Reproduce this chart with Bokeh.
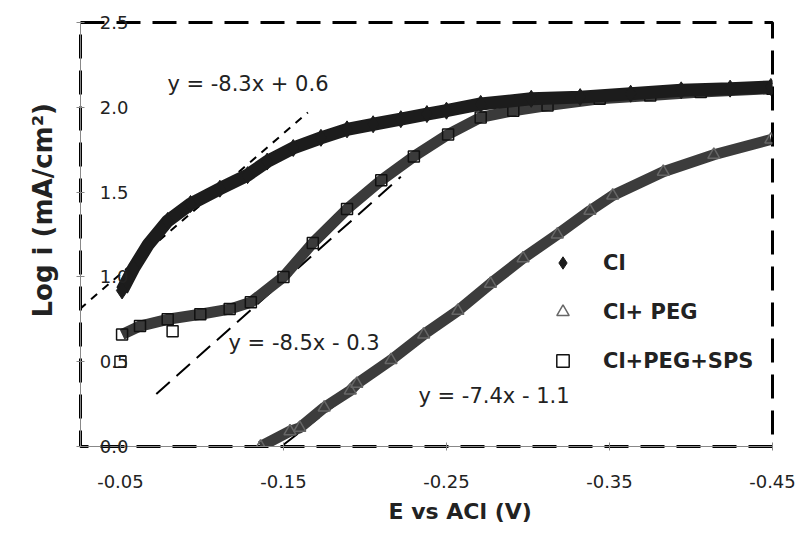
from bokeh.plotting import figure
from bokeh.models import Range1d, FixedTicker, PrintfTickFormatter, Label, Legend, LegendItem, Title
from bokeh.embed import file_html
from bokeh.resources import INLINE

# ---- data ----
series_names = ["Cl", "Cl+ PEG", "Cl+PEG+SPS"]

cl_x = [-0.051, -0.058, -0.067, -0.079, -0.093, -0.111, -0.128, -0.140, -0.156, -0.173, -0.189,
        -0.205, -0.222, -0.238, -0.250, -0.271, -0.302, -0.332, -0.363, -0.394, -0.424, -0.449]
cl_y = [0.92, 1.05, 1.19, 1.33, 1.43, 1.52, 1.60, 1.68, 1.76, 1.82, 1.87,
        1.90, 1.93, 1.96, 1.98, 2.02, 2.05, 2.06, 2.08, 2.10, 2.11, 2.12]

peg_x = [-0.136, -0.154, -0.160, -0.175, -0.191, -0.195, -0.216, -0.236, -0.257, -0.277, -0.297,
         -0.318, -0.338, -0.352, -0.383, -0.414, -0.449]
peg_y = [0.00, 0.09, 0.11, 0.23, 0.33, 0.37, 0.51, 0.66, 0.80, 0.96, 1.11,
         1.25, 1.39, 1.48, 1.62, 1.72, 1.81]

sps_x = [-0.051, -0.062, -0.079, -0.099, -0.117, -0.130, -0.150, -0.168, -0.189, -0.210, -0.230,
         -0.251, -0.271, -0.291, -0.312, -0.344, -0.375, -0.406, -0.450]
sps_y = [0.66, 0.71, 0.75, 0.78, 0.81, 0.85, 1.00, 1.20, 1.40, 1.57, 1.71,
         1.84, 1.94, 1.98, 2.01, 2.05, 2.07, 2.09, 2.11]
sps_extra_x = [-0.050, -0.082]
sps_extra_y = [0.50, 0.68]

# trend lines (end points) and their equation labels
trend1_x = [-0.025, -0.165]
trend1_y = [0.81, 1.97]
trend2_x = [-0.072, -0.222]
trend2_y = [0.31, 1.59]
trend3_x = [-0.150, -0.350]
trend3_y = [0.01, 1.49]
trend_labels = ["y = -8.3x + 0.6", "y = -8.5x - 0.3", "y = -7.4x - 1.1"]

x_ticks = [-0.05, -0.15, -0.25, -0.35, -0.45]
y_ticks = [0.0, 0.5, 1.0, 1.5, 2.0, 2.5]

FONT = "DejaVu Sans"
TXT = "#222222"

p = figure(width=800, height=544, x_range=Range1d(-0.0255, -0.45), y_range=Range1d(0, 2.5),
           output_backend="svg", toolbar_location=None,
           min_border_left=80, min_border_right=28, min_border_top=22, min_border_bottom=98)
p.grid.visible = False
p.background_fill_color = "white"
p.border_fill_color = "white"
p.outline_line_color = "black"
p.outline_line_width = 3
p.outline_line_dash = "24 12"

for ax in (p.xaxis[0], p.yaxis[0]):
    ax.axis_line_color = "#888888"
    ax.axis_line_width = 1
    ax.major_tick_line_color = "#888888"
    ax.major_tick_in = 4
    ax.major_tick_out = 4
    ax.minor_tick_line_color = None
    ax.major_label_text_font = FONT
    ax.major_label_text_font_size = "18px"
    ax.major_label_text_color = TXT

p.xaxis.ticker = FixedTicker(ticks=x_ticks)
p.xaxis.formatter = PrintfTickFormatter(format="%.2f")
p.xaxis.major_label_standoff = 24
p.yaxis.ticker = FixedTicker(ticks=y_ticks)
p.yaxis.formatter = PrintfTickFormatter(format="%.1f")
p.yaxis.major_label_standoff = -52

# axis titles
p.add_layout(Title(text="E vs ACl (V)", align="left", offset=308, standoff=12,
                   text_font=FONT, text_font_style="bold", text_font_size="22px",
                   text_color=TXT), "below")
p.add_layout(Title(text="Log i (mA/cm²)", align="left", offset=129, standoff=45,
                   text_font=FONT, text_font_style="bold", text_font_size="26px",
                   text_color=TXT), "left")

# trend lines
p.line(trend1_x, trend1_y, line_color="black", line_width=2, line_dash="8 7")
p.line(trend2_x, trend2_y, line_color="black", line_width=2, line_dash="18 9")
p.line(trend3_x, trend3_y, line_color="black", line_width=2, line_dash="18 9")

# series bands
p.line(peg_x, peg_y, line_color="#3c3c3c", line_width=11)
r_peg = p.scatter(peg_x, peg_y, marker="triangle", size=12, fill_color=None,
                  line_color="#666666", line_width=1.5)

p.line(sps_x, sps_y, line_color="#3a3a3a", line_width=11)
r_sps = p.scatter(sps_x, sps_y, marker="square", size=11, fill_color=None,
                  line_color="#111111", line_width=1.5)
p.scatter(sps_extra_x, sps_extra_y, marker="square", size=11, fill_color=None,
          line_color="#111111", line_width=1.5)

p.line(cl_x, cl_y, line_color="#1c1c1c", line_width=13)
r_cl = p.scatter(cl_x, cl_y, marker="diamond", size=17, fill_color="#1c1c1c",
                 line_color="#1c1c1c")

# equation labels
for tx, ty, t in [(-0.0788, 2.135, trend_labels[0]), (-0.1163, 0.612, trend_labels[1]),
                  (-0.2328, 0.30, trend_labels[2])]:
    p.add_layout(Label(x=tx, y=ty, text=t, text_font=FONT, text_font_size="21px",
                       text_color=TXT, text_align="left", text_baseline="middle"))

legend = Legend(items=[LegendItem(label=series_names[0], renderers=[r_cl]),
                       LegendItem(label=series_names[1], renderers=[r_peg]),
                       LegendItem(label=series_names[2], renderers=[r_sps])],
                location=(467, 70), orientation="vertical",
                border_line_color=None, background_fill_alpha=0,
                padding=0, margin=0, spacing=18, glyph_height=31, glyph_width=31,
                label_standoff=25, label_text_font=FONT, label_text_font_style="bold",
                label_text_font_size="21px", label_text_color=TXT,
                label_height=31)
p.add_layout(legend)

open("out.html", "w").write(file_html(p, INLINE))
